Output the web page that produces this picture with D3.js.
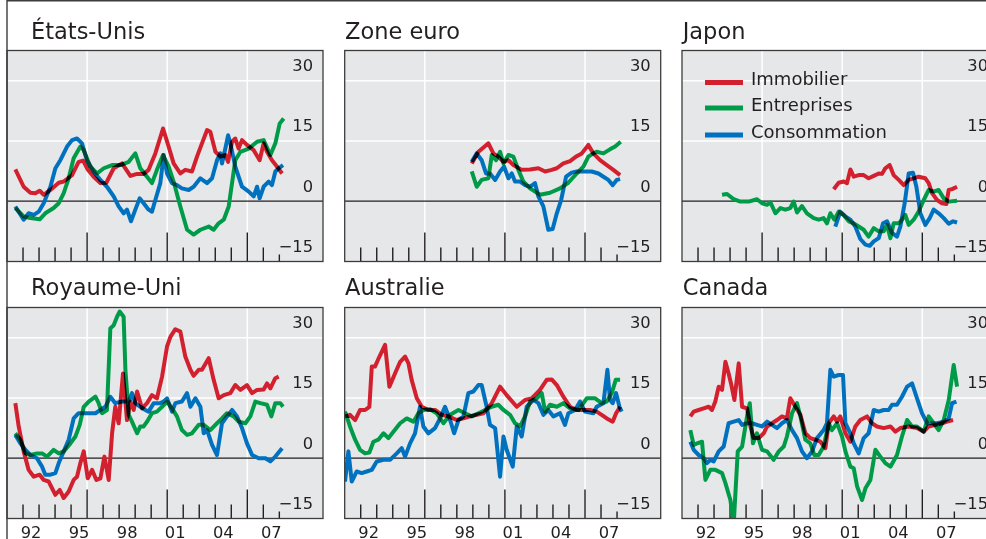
<!DOCTYPE html>
<html><head><meta charset="utf-8">
<script src="https://cdn.jsdelivr.net/npm/d3@7"></script>
<style>
html,body{margin:0;padding:0;background:#fff;}
svg{display:block;font-family:"DejaVu Sans",sans-serif;}
</style></head>
<body>
<svg id="chart" width="986" height="539"></svg>
<script>
// ---- Data (decimal year, % change) ----
const seriesNames = ["Immobilier", "Entreprises", "Consommation"];
const panelTitles = ["États-Unis", "Zone euro", "Japon", "Royaume-Uni", "Australie", "Canada"];
const yTicks = [30, 15, 0, -15];
const xLabelYears = [1992, 1995, 1998, 2001, 2004, 2007];
const xLabelText = ["92", "95", "98", "01", "04", "07"];

const usRE = [[1991.52,7.9],[1992.04,3.6],[1992.46,2.1],[1992.77,2.0],[1993.04,2.6],[1993.29,1.6],[1993.71,2.8],[1994.23,4.6],[1994.54,4.9],[1995.06,6.5],[1995.47,9.8],[1995.75,10.1],[1996.04,7.9],[1996.41,6.1],[1996.83,4.5],[1997.20,4.6],[1997.66,8.2],[1998.18,9.4],[1998.70,6.3],[1999.12,6.8],[1999.53,6.8],[1999.84,7.8],[2000.26,11.9],[2000.74,18.1],[2001.09,13.6],[2001.40,9.4],[2001.82,6.9],[2002.13,7.8],[2002.55,7.4],[2002.86,11.1],[2003.17,14.4],[2003.49,17.7],[2003.69,17.3],[2004.01,12.3],[2004.32,11.1],[2004.63,11.5],[2004.80,9.8],[2005.05,14.8],[2005.25,15.6],[2005.46,13.1],[2005.67,15.2],[2005.98,14.0],[2006.40,12.7],[2006.77,10.2],[2007.02,14.4],[2007.23,12.3],[2007.54,10.2],[2007.86,8.6],[2008.17,6.9]];
const usBU = [[1991.52,-1.7],[1992.04,-3.8],[1992.46,-4.2],[1993.04,-4.5],[1993.39,-3.0],[1993.91,-1.7],[1994.23,-0.5],[1994.54,2.0],[1994.85,5.7],[1995.16,10.7],[1995.58,13.6],[1995.79,12.7],[1996.20,8.6],[1996.62,6.9],[1997.04,8.2],[1997.56,9.0],[1998.08,9.0],[1998.60,9.8],[1999.01,11.9],[1999.32,8.2],[1999.74,6.1],[2000.05,4.5],[2000.36,7.8],[2000.74,11.5],[2001.09,8.6],[2001.40,4.9],[2001.82,-1.3],[2002.24,-7.1],[2002.65,-8.3],[2003.07,-7.1],[2003.59,-6.3],[2003.90,-7.1],[2004.21,-5.5],[2004.53,-4.6],[2004.84,-1.3],[2005.25,10.2],[2005.57,12.3],[2006.09,13.1],[2006.61,14.8],[2007.02,15.2],[2007.44,11.5],[2007.75,14.4],[2008.02,19.3],[2008.27,20.6]];
const usCO = [[1991.52,-1.3],[1992.04,-4.6],[1992.35,-3.0],[1992.67,-3.4],[1992.98,-2.6],[1993.29,-0.5],[1993.71,3.6],[1994.02,8.2],[1994.33,10.2],[1994.75,13.6],[1995.06,15.2],[1995.37,15.6],[1995.68,14.4],[1995.99,10.2],[1996.41,7.4],[1996.83,5.3],[1997.24,3.6],[1997.66,1.2],[1997.97,-1.3],[1998.28,-3.0],[1998.49,-2.1],[1998.74,-5.0],[1999.01,-2.1],[1999.28,0.7],[1999.53,-0.5],[1999.84,-2.1],[2000.05,-2.6],[2000.26,0.3],[2000.57,4.5],[2000.78,11.5],[2000.99,6.9],[2001.30,4.5],[2001.61,4.0],[2001.92,3.2],[2002.34,2.8],[2002.65,3.6],[2003.07,5.7],[2003.49,4.5],[2003.80,5.7],[2004.11,10.2],[2004.32,11.9],[2004.42,9.4],[2004.63,13.1],[2004.80,16.4],[2004.94,14.4],[2005.25,8.6],[2005.67,3.6],[2006.09,2.4],[2006.40,1.2],[2006.61,3.6],[2006.77,0.7],[2007.02,3.6],[2007.33,4.9],[2007.54,4.0],[2007.75,7.4],[2007.96,8.2],[2008.23,9.0]];

const euRE = [[1998.93,9.4],[1999.35,12.3],[1999.97,14.4],[2000.28,11.9],[2000.59,11.1],[2000.91,9.8],[2001.22,10.2],[2001.53,9.0],[2002.05,7.8],[2002.57,7.9],[2003.09,8.2],[2003.51,7.4],[2003.92,7.8],[2004.24,8.2],[2004.65,9.4],[2005.07,10.0],[2005.48,11.2],[2005.80,11.9],[2006.21,14.0],[2006.52,11.9],[2006.94,10.2],[2007.36,9.0],[2007.77,7.8],[2008.19,6.5]];
const euBU = [[1998.93,7.4],[1999.24,3.6],[1999.55,5.3],[1999.97,5.7],[2000.18,11.5],[2000.45,10.2],[2000.70,12.3],[2000.91,9.4],[2001.22,11.5],[2001.53,11.1],[2001.84,7.8],[2002.15,4.9],[2002.57,3.2],[2003.19,1.6],[2003.82,2.1],[2004.44,3.2],[2004.96,4.6],[2005.48,6.9],[2005.90,8.6],[2006.21,11.1],[2006.52,11.9],[2006.73,12.3],[2007.15,11.9],[2007.56,12.9],[2007.88,13.6],[2008.23,14.8]];
const euCO = [[1998.93,9.8],[1999.24,11.9],[1999.55,10.2],[1999.82,6.9],[2000.07,6.9],[2000.39,5.3],[2000.70,7.4],[2000.95,8.6],[2001.22,5.7],[2001.43,6.9],[2001.63,4.9],[2001.95,4.9],[2002.26,4.0],[2002.57,3.6],[2002.88,4.5],[2003.09,1.2],[2003.40,-1.3],[2003.71,-7.1],[2003.98,-6.9],[2004.24,-3.0],[2004.51,0.3],[2004.82,6.1],[2005.17,7.1],[2005.48,7.4],[2005.90,7.4],[2006.42,7.4],[2006.84,6.9],[2007.15,6.1],[2007.46,5.3],[2007.73,4.0],[2007.98,5.3],[2008.19,5.5]];

const jpRE = [[2000.47,3.0],[2000.78,4.6],[2001.09,4.9],[2001.30,4.5],[2001.51,7.9],[2001.72,6.1],[2002.03,6.5],[2002.34,6.5],[2002.65,5.7],[2002.97,6.3],[2003.28,6.9],[2003.49,6.8],[2003.69,8.2],[2003.96,9.0],[2004.21,6.5],[2004.53,5.3],[2004.84,4.0],[2005.15,5.3],[2005.46,5.7],[2005.77,6.1],[2006.19,5.7],[2006.40,4.5],[2006.61,2.0],[2006.92,0.3],[2007.23,-0.5],[2007.50,-0.7],[2007.65,2.8],[2007.86,3.0],[2008.17,3.6]];
const jpBU = [[1993.50,1.6],[1993.81,1.8],[1994.23,0.5],[1994.64,-0.1],[1995.16,-0.1],[1995.68,0.5],[1996.00,-0.5],[1996.31,-0.9],[1996.52,-0.3],[1996.83,-3.0],[1997.14,-1.7],[1997.45,-2.1],[1997.76,-1.7],[1997.97,-0.1],[1998.18,-2.8],[1998.49,-1.2],[1998.80,-3.0],[1999.22,-4.2],[1999.53,-4.6],[1999.84,-4.2],[2000.05,-5.5],[2000.26,-3.0],[2000.51,-4.6],[2000.78,-2.6],[2001.09,-3.4],[2001.41,-5.0],[2001.72,-5.5],[2002.03,-6.3],[2002.34,-7.1],[2002.65,-8.8],[2002.97,-6.7],[2003.28,-7.5],[2003.59,-7.5],[2003.80,-5.9],[2004.01,-9.2],[2004.21,-5.5],[2004.53,-5.5],[2004.73,-4.6],[2004.94,-3.4],[2005.15,-5.9],[2005.46,-4.6],[2005.77,-2.6],[2006.09,0.3],[2006.40,2.8],[2006.71,2.4],[2007.02,2.8],[2007.34,0.7],[2007.65,-0.1],[2008.17,0.1]];
const jpCO = [[2000.57,-6.3],[2000.88,-2.6],[2001.20,-3.8],[2001.51,-4.6],[2001.82,-6.3],[2002.13,-9.4],[2002.45,-10.8],[2002.72,-11.1],[2002.97,-10.0],[2003.28,-9.2],[2003.55,-5.5],[2003.80,-5.0],[2004.11,-7.9],[2004.42,-8.8],[2004.63,-6.3],[2004.90,-0.5],[2005.15,6.9],[2005.42,7.1],[2005.63,3.6],[2005.88,-3.0],[2006.19,-5.9],[2006.46,-4.2],[2006.71,-2.1],[2007.02,-3.0],[2007.34,-4.2],[2007.65,-5.6],[2007.92,-5.0],[2008.17,-5.3]];

const ukRE = [[1991.52,13.7],[1991.73,7.9],[1992.04,1.7],[1992.35,-2.9],[1992.67,-4.6],[1993.04,-4.1],[1993.29,-5.4],[1993.60,-5.8],[1994.02,-9.1],[1994.29,-7.9],[1994.54,-9.9],[1994.85,-8.3],[1995.16,-5.4],[1995.37,-4.6],[1995.58,-1.2],[1995.79,1.7],[1996.04,-5.0],[1996.31,-2.9],[1996.58,-5.4],[1996.83,-5.0],[1997.08,0.4],[1997.35,-5.4],[1997.56,6.2],[1997.76,12.8],[1997.97,8.7],[1998.24,21.1],[1998.49,9.5],[1998.70,14.1],[1998.91,12.0],[1999.12,16.6],[1999.43,12.4],[1999.74,13.7],[2000.05,15.7],[2000.36,14.9],[2000.68,20.3],[2000.99,27.8],[2001.20,30.2],[2001.51,32.1],[2001.82,31.5],[2002.13,25.3],[2002.45,22.0],[2002.65,20.5],[2002.97,22.0],[2003.17,22.0],[2003.59,24.9],[2003.90,19.5],[2004.21,14.9],[2004.53,15.7],[2004.94,16.2],[2005.25,18.2],[2005.57,17.0],[2005.98,18.2],[2006.30,16.2],[2006.61,17.0],[2007.02,17.1],[2007.23,18.6],[2007.44,17.4],[2007.75,19.9],[2007.96,20.3]];
const ukBU = [[1991.52,6.2],[1991.83,4.6],[1992.15,1.2],[1992.46,0.8],[1992.87,1.2],[1993.19,1.2],[1993.50,0.4],[1993.91,2.1],[1994.23,1.2],[1994.54,1.7],[1994.96,3.7],[1995.27,5.4],[1995.54,8.3],[1995.79,12.8],[1996.10,14.1],[1996.52,15.3],[1996.72,13.7],[1996.93,11.2],[1997.24,12.0],[1997.45,32.3],[1997.66,33.1],[1997.87,35.2],[1998.03,36.5],[1998.28,35.2],[1998.39,22.0],[1998.60,10.8],[1998.80,9.1],[1999.12,6.2],[1999.32,7.9],[1999.53,7.9],[1999.74,9.1],[2000.05,11.2],[2000.36,11.6],[2000.68,12.8],[2000.99,14.1],[2001.30,12.4],[2001.61,10.4],[2001.92,7.0],[2002.24,5.8],[2002.55,6.2],[2002.97,8.3],[2003.28,8.3],[2003.69,7.0],[2004.11,8.7],[2004.42,9.9],[2004.73,11.2],[2005.15,10.4],[2005.46,9.1],[2005.88,8.7],[2006.19,10.4],[2006.50,14.1],[2006.81,13.7],[2007.23,13.3],[2007.50,10.4],[2007.75,13.7],[2008.06,13.7],[2008.23,12.8]];
const ukCO = [[1991.52,5.8],[1991.83,3.7],[1992.15,2.1],[1992.46,0.8],[1992.87,0.0],[1993.19,-2.1],[1993.39,-4.1],[1993.71,-4.1],[1994.02,-3.7],[1994.23,-1.2],[1994.54,1.7],[1994.85,4.6],[1995.16,9.9],[1995.47,11.2],[1995.99,11.2],[1996.52,11.2],[1996.83,12.0],[1997.14,12.8],[1997.45,15.3],[1997.76,13.7],[1998.18,14.1],[1998.60,14.1],[1998.80,16.2],[1999.01,13.7],[1999.32,12.8],[1999.64,12.0],[1999.84,11.6],[2000.16,13.7],[2000.57,13.7],[2000.78,14.1],[2000.99,14.9],[2001.30,11.6],[2001.51,13.7],[2001.92,14.1],[2002.24,16.2],[2002.45,12.8],[2002.76,14.9],[2003.07,12.8],[2003.28,6.2],[2003.49,7.0],[2003.80,3.3],[2004.11,0.8],[2004.42,8.7],[2004.73,10.4],[2005.05,12.0],[2005.36,10.4],[2005.67,7.5],[2005.98,3.7],[2006.30,0.8],[2006.71,0.0],[2007.13,0.0],[2007.44,-0.8],[2007.75,0.4],[2008.17,2.5]];

const auRE = [[1991.02,10.4],[1991.33,10.8],[1991.65,9.5],[1991.96,12.0],[1992.27,12.0],[1992.54,12.8],[1992.69,22.8],[1992.89,22.8],[1993.17,25.3],[1993.52,28.2],[1993.79,17.8],[1994.14,21.1],[1994.46,24.0],[1994.77,25.3],[1994.98,23.6],[1995.18,19.5],[1995.50,14.9],[1995.81,12.8],[1996.22,12.0],[1996.64,12.0],[1997.06,10.8],[1997.47,10.4],[1997.99,9.5],[1998.41,9.9],[1998.82,10.4],[1999.24,10.8],[1999.66,11.2],[2000.18,13.7],[2000.70,17.8],[2001.11,15.7],[2001.74,12.8],[2002.26,14.5],[2002.67,14.9],[2003.19,17.0],[2003.61,19.5],[2003.92,19.6],[2004.24,18.2],[2004.65,15.3],[2005.07,12.8],[2005.48,12.0],[2005.90,12.0],[2006.32,12.0],[2006.73,11.6],[2007.04,10.8],[2007.36,9.9],[2007.73,9.1],[2007.94,11.2],[2008.19,12.8]];
const auBU = [[1991.02,11.6],[1991.33,7.9],[1991.65,4.6],[1991.96,2.1],[1992.27,1.2],[1992.54,1.4],[1992.79,4.1],[1993.10,4.6],[1993.42,6.2],[1993.73,5.0],[1994.04,6.6],[1994.46,8.7],[1994.87,9.9],[1995.29,9.1],[1995.60,11.2],[1995.91,12.0],[1996.33,12.2],[1996.74,11.2],[1997.16,8.7],[1997.58,10.8],[1998.10,12.0],[1998.51,11.2],[1998.93,10.4],[1999.35,11.2],[1999.76,12.0],[2000.18,12.8],[2000.59,13.3],[2000.91,12.0],[2001.32,10.8],[2001.63,8.7],[2001.95,7.9],[2002.26,10.4],[2002.57,14.1],[2002.99,14.9],[2003.30,16.2],[2003.51,11.6],[2003.82,13.3],[2004.24,12.8],[2004.65,13.7],[2005.07,12.4],[2005.59,12.0],[2006.11,14.9],[2006.63,14.9],[2007.04,13.7],[2007.36,14.1],[2007.67,16.2],[2007.92,19.5],[2008.19,19.5]];
const auCO = [[1991.02,-5.8],[1991.23,1.7],[1991.44,-5.8],[1991.75,-3.3],[1992.06,-3.7],[1992.37,-3.3],[1992.69,-2.9],[1993.00,-0.8],[1993.42,-0.4],[1993.83,-0.4],[1994.25,1.2],[1994.56,2.5],[1994.77,0.4],[1995.08,3.7],[1995.39,6.2],[1995.70,12.8],[1995.91,7.9],[1996.22,6.2],[1996.64,7.5],[1996.95,9.9],[1997.26,12.8],[1997.58,9.5],[1997.83,6.2],[1998.10,9.5],[1998.41,10.4],[1998.72,16.2],[1999.03,16.6],[1999.35,18.2],[1999.55,18.2],[1999.86,12.8],[2000.07,8.3],[2000.39,7.5],[2000.70,-4.6],[2000.91,5.4],[2001.11,2.1],[2001.49,-2.1],[2001.74,7.9],[2002.05,5.4],[2002.36,12.8],[2002.78,14.5],[2003.09,13.7],[2003.40,10.8],[2003.71,12.0],[2004.03,10.4],[2004.44,11.2],[2004.75,8.3],[2004.96,11.2],[2005.38,12.0],[2005.69,14.1],[2006.00,11.6],[2006.52,11.2],[2006.73,12.8],[2007.15,13.7],[2007.40,22.0],[2007.56,14.5],[2007.73,13.7],[2007.94,16.2],[2008.15,12.8],[2008.29,11.6]];

const caRE = [[1991.52,10.4],[1991.73,11.6],[1992.04,12.0],[1992.35,12.4],[1992.67,12.8],[1992.87,12.0],[1993.08,14.1],[1993.29,17.8],[1993.50,17.0],[1993.71,24.0],[1993.91,21.1],[1994.06,18.6],[1994.27,14.5],[1994.54,23.6],[1994.75,12.8],[1995.06,12.4],[1995.27,7.9],[1995.47,5.0],[1995.79,5.0],[1996.10,6.2],[1996.31,7.9],[1996.62,8.7],[1996.93,9.5],[1997.24,10.4],[1997.55,9.9],[1997.76,14.9],[1998.08,12.8],[1998.39,10.8],[1998.70,6.2],[1999.01,5.0],[1999.32,4.6],[1999.64,4.1],[1999.95,2.5],[2000.16,8.7],[2000.47,10.4],[2000.68,9.1],[2000.88,10.4],[2001.20,6.2],[2001.51,4.1],[2001.82,7.9],[2002.13,9.5],[2002.55,10.4],[2002.86,8.7],[2003.17,7.9],[2003.59,7.5],[2004.01,7.9],[2004.32,6.6],[2004.63,7.5],[2005.15,7.9],[2005.67,7.5],[2006.09,6.6],[2006.40,7.9],[2006.82,8.3],[2007.23,8.7],[2007.55,9.1],[2007.92,9.5]];
const caBU = [[1991.52,7.0],[1991.73,3.3],[1991.94,3.7],[1992.25,4.1],[1992.46,-5.4],[1992.77,-2.9],[1993.08,-2.9],[1993.50,-3.7],[1993.71,-6.2],[1994.02,-10.4],[1994.23,-16.2],[1994.48,1.7],[1994.75,2.9],[1995.06,10.4],[1995.23,13.7],[1995.43,3.7],[1995.68,6.2],[1995.99,2.1],[1996.31,1.7],[1996.72,-0.4],[1997.04,1.7],[1997.35,2.9],[1997.55,5.4],[1997.87,11.2],[1998.18,13.7],[1998.39,10.4],[1998.70,4.6],[1999.01,3.7],[1999.26,0.8],[1999.53,0.8],[1999.84,2.9],[2000.16,8.7],[2000.36,7.0],[2000.68,8.7],[2000.99,5.4],[2001.20,1.7],[2001.51,-2.1],[2001.72,-2.5],[2001.93,-7.0],[2002.24,-10.4],[2002.45,-7.5],[2002.76,-5.4],[2003.07,2.1],[2003.38,0.4],[2003.69,-1.2],[2004.01,-2.1],[2004.42,0.8],[2004.73,5.4],[2005.05,9.5],[2005.36,7.9],[2005.67,7.9],[2006.09,6.6],[2006.40,10.4],[2006.71,8.7],[2007.02,7.0],[2007.34,9.5],[2007.65,14.5],[2007.96,23.2],[2008.17,17.8]];
const caCO = [[1991.52,4.1],[1991.73,2.1],[1992.04,0.8],[1992.35,0.0],[1992.56,-1.2],[1992.77,-0.4],[1992.98,-0.8],[1993.29,1.7],[1993.60,2.9],[1993.91,8.7],[1994.23,9.1],[1994.54,9.5],[1994.75,8.3],[1995.06,8.7],[1995.37,8.7],[1995.68,8.3],[1995.99,7.9],[1996.31,9.1],[1996.62,8.3],[1996.93,7.5],[1997.24,8.7],[1997.55,9.5],[1997.87,7.0],[1998.18,5.0],[1998.49,1.7],[1998.80,0.0],[1999.12,1.7],[1999.43,5.0],[1999.84,7.0],[2000.05,8.7],[2000.26,22.0],[2000.47,20.3],[2000.78,20.7],[2001.05,20.7],[2001.20,8.7],[2001.51,6.2],[2001.72,3.7],[2002.03,1.2],[2002.34,5.0],[2002.65,6.2],[2002.97,12.0],[2003.28,11.6],[2003.59,12.0],[2003.90,12.0],[2004.11,13.3],[2004.42,13.3],[2004.73,15.3],[2005.05,17.8],[2005.36,18.6],[2005.67,14.9],[2005.98,11.2],[2006.30,8.7],[2006.61,8.7],[2006.92,8.7],[2007.34,9.1],[2007.65,9.9],[2007.86,13.7],[2008.13,14.1]];

const panelSeries = [
  [usRE, usBU, usCO], [euRE, euBU, euCO], [jpRE, jpBU, jpCO],
  [ukRE, ukBU, ukCO], [auRE, auBU, auCO], [caRE, caBU, caCO]
];

// ---- Styling / layout ----
const colors = ["#d3202e", "#009b48", "#0071bf"];
const bg = "#e6e7e8";
const colLefts = [7, 344.7, 682];
const plotW = 316;
const rowTops = [50.5, 307.5];
const plotH = 211;
const yearPx = 16.02;
const titleX = [31, 345, 682.7];
const titleBase = [38.5, 295];

const svg = d3.select("#chart");
svg.append("rect").attr("width", 986).attr("height", 539).attr("fill", "#fff");

panelTitles.forEach((title, i) => {
  const col = i % 3, row = Math.floor(i / 3);
  const left = colLefts[col], top = rowTops[row];
  const x = d3.scaleLinear().domain([1991, 1991 + plotW / yearPx]).range([left, left + plotW]);
  const y = d3.scaleLinear().domain([-15, 37.5]).range([top + plotH, top]);
  const g = svg.append("g");

  // title
  g.append("text").attr("x", titleX[col]).attr("y", titleBase[row])
    .attr("font-size", 22.5).attr("fill", "#231f20").text(title);

  // plot background
  g.append("rect").attr("x", left).attr("y", top).attr("width", plotW).attr("height", plotH).attr("fill", bg);

  const clipId = "clip" + i;
  svg.append("clipPath").attr("id", clipId).append("rect")
    .attr("x", left).attr("y", top).attr("width", plotW).attr("height", plotH);

  // white horizontal gridlines
  [15, 30].forEach(v => {
    g.append("line").attr("x1", left).attr("x2", left + plotW).attr("y1", y(v)).attr("y2", y(v))
      .attr("stroke", "#fff").attr("stroke-width", 1.5);
  });
  // white vertical gridlines at long ticks
  const longYears = [1996, 2001, 2006];
  longYears.forEach(yr => {
    g.append("line").attr("x1", x(yr)).attr("x2", x(yr)).attr("y1", top).attr("y2", top + plotH)
      .attr("stroke", "#fff").attr("stroke-width", 1.5);
  });
  // zero line
  g.append("line").attr("x1", left).attr("x2", left + plotW).attr("y1", y(0)).attr("y2", y(0))
    .attr("stroke", "#231f20").attr("stroke-width", 1.3);

  // ticks along bottom
  const tickYears = d3.range(1992, 2009);
  g.selectAll(null).data(tickYears).enter().append("line")
    .attr("x1", d => x(d)).attr("x2", d => x(d))
    .attr("y1", d => top + plotH - (longYears.includes(d) ? 29 : 14))
    .attr("y2", top + plotH)
    .attr("stroke", "#231f20").attr("stroke-width", 1.4);

  // y labels with background knockout
  yTicks.forEach(v => {
    const tx = left + 306, ty = y(v) - 9.5;
    const t = g.append("text").attr("x", tx).attr("y", ty).attr("text-anchor", "end")
      .attr("font-size", 16.3).attr("fill", "#231f20")
      .text(v < 0 ? "\u2212" + Math.abs(v) : String(v));
    const bb = t.node().getBBox();
    g.insert("rect", () => t.node()).attr("x", bb.x - 2).attr("y", ty - 12.5)
      .attr("width", bb.width + 3).attr("height", 15).attr("fill", bg);
  });

  // series lines (multiply blend so overlaps darken)
  const lg = g.append("g").attr("clip-path", `url(#${clipId})`).style("isolation", "isolate");
  const line = d3.line().x(d => x(d[0])).y(d => y(d[1]));
  panelSeries[i].forEach((s, k) => {
    lg.append("path").datum(s).attr("d", line).attr("fill", "none")
      .attr("stroke", colors[k]).attr("stroke-width", 4)
      .attr("stroke-linejoin", "round").attr("stroke-linecap", "butt")
      .style("mix-blend-mode", "multiply");
  });

  // plot border
  g.append("rect").attr("x", left).attr("y", top).attr("width", plotW).attr("height", plotH)
    .attr("fill", "none").attr("stroke", "#3c3c3c").attr("stroke-width", 1.3);

  // x labels on bottom row
  if (row === 1) {
    xLabelYears.forEach((yr, j) => {
      g.append("text").attr("x", x(yr + 0.5)).attr("y", 538).attr("text-anchor", "middle")
        .attr("font-size", 16.3).attr("fill", "#231f20").text(xLabelText[j]);
    });
  }

  // legend in Japan panel
  if (i === 2) {
    const ly = [82.5, 108, 135];
    seriesNames.forEach((n, k) => {
      g.append("line").attr("x1", left + 23).attr("x2", left + 61).attr("y1", ly[k]).attr("y2", ly[k])
        .attr("stroke", colors[k]).attr("stroke-width", 5);
      g.append("text").attr("x", left + 69).attr("y", ly[k] + 2.5).attr("font-size", 18)
        .attr("fill", "#231f20").text(n);
    });
  }
});

// outer frame lines
svg.append("line").attr("x1", 7).attr("x2", 986).attr("y1", 0.8).attr("y2", 0.8)
  .attr("stroke", "#3c3c3c").attr("stroke-width", 1.4);
svg.append("line").attr("x1", 7).attr("x2", 7).attr("y1", 0).attr("y2", 539)
  .attr("stroke", "#3c3c3c").attr("stroke-width", 1.4);
</script>
</body></html>
